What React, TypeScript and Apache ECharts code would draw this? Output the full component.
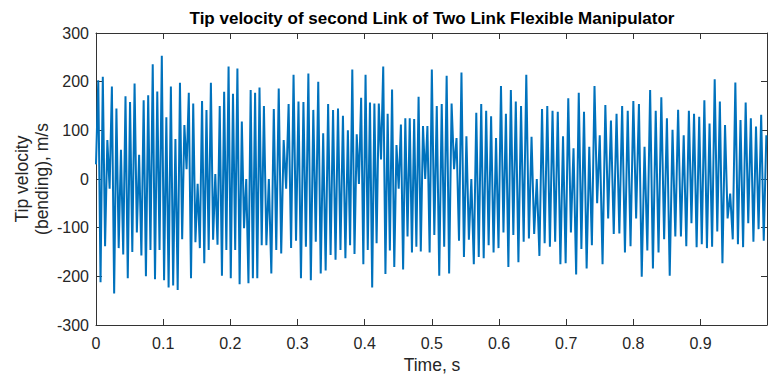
import React, { useEffect, useRef } from "react";
import * as echarts from "echarts";

const titleText = "Tip velocity of second Link of Two Link Flexible Manipulator";
const xLabel = "Time, s";
const yLabelLines = ["Tip velocity", "(bending), m/s"];

// Tip velocity samples (m/s) (each segment ~0.125 s)
const seg1 = [30, 203, -212, 210, -138, 80, -20, 190, -235, 145, -142, 60, -155, 170, -204, 158, -150, 196, -110, 50, -157, 162, -200, 172, -146, 236, -206, 180, -146, 253, -208, 127, -223, 190, -219, 82, -228];
const seg2 = [198, -124, 111, 20, 177, -204, 155, -130, -10, -142, 160, -173, 142, -146, 198, -125, 10, -135, 150, -199, 179, -146, 231, -204, 175, -146, 227, -216, 118, -101, 0, -214, 183, -204, 177, -204, 188, -136];
const seg3 = [150, -136, 0, -194, 144, -146, 186, -153, 80, -20, 154, -142, 214, -127, 159, -204, 158, -139, 217, -208, 142, -129, 200, -194, 94, -188, 154, -156, 142, -166, 145, -146, 130, -163];
const seg4 = [100, -136, 225, -154, 92, -10, 167, -175, 214, -146, 157, -223, 155, -132, 155, 40, 231, -195, 134, -147, 184, -181, 70, -20, 112, -186, 125, -118, 125, -151, 123, -139, 169, -149, 109, 0, 109, -151];
const seg5 = [225, -115, 150, -199, 154, -139, 212, -194, 155, 20, 84, -127, 219, -160, 88, -125, 0, -175, 136, -160, 154, -163, 140, -136, 129, -151, 84, -142, 191, -110, 134, -181, 183, -115];
const seg6 = [159, -171, 150, -129, 214, -122, 87, -113, 0, -158, 144, -132, 150, -139, 140, -129, 138, -175, 88, -173, 166, -110, 63, -196, 177, -144, 138, -184, 66, -136, 191, -50];
const seg7 = [90, -175, 152, -81, 120, -113, 134, -112, 150, -151, 140, -138, 160, -81, 154, -201, 66, -147, 183, -184, 140, -151, 168, -124, 125, -199, 101, -118, 142, -118];
const seg8 = [90, -138, 140, -91, 134, -140, 128, -134, 162, -142, 114, -139, 205, -108, 159, -173, 111, -81, -30, -124, 198, -134, 121, -140, 157, -91, 125, -129, 108, -103, 132, -127, 90];

const segments = [seg1, seg2, seg3, seg4, seg5, seg6, seg7, seg8];
const segmentStarts = [0, 0.125, 0.25, 0.375, 0.5, 0.625, 0.75, 0.875];
const timeEnd = 0.998;
const xMax = 0.999;

const yTicks = [-300, -200, -100, 0, 100, 200, 300];

function buildData(): [number, number][] {
  const out: [number, number][] = [];
  segments.forEach((seg, k) => {
    const start = segmentStarts[k];
    const last = k === segments.length - 1;
    const span = last ? timeEnd - start : segmentStarts[k + 1] - start;
    const step = last ? span / (seg.length - 1) : span / seg.length;
    seg.forEach((v, i) => out.push([start + i * step, v]));
  });
  return out;
}

export default function App() {
  const ref = useRef<HTMLDivElement>(null);
  useEffect(() => {
    if (!ref.current) return;
    const chart = echarts.init(ref.current, undefined, { renderer: "svg" });
    const font = "'Liberation Sans', Arial, Helvetica, sans-serif";
    const axisColor = "#262626";
    const lineColor = "#333333";
    const axisCommon = {
      type: "value" as const,
      axisLine: { show: true, onZero: false, lineStyle: { color: lineColor, width: 1 } },
      axisTick: { show: true, inside: true, length: 6, lineStyle: { color: lineColor, width: 1 } },
      splitLine: { show: false },
    };
    chart.setOption({
      animation: false,
      backgroundColor: "#ffffff",
      grid: { left: 96, right: 1, top: 33, bottom: 50, containLabel: false },
      xAxis: [
        {
          ...axisCommon,
          position: "bottom",
          min: 0,
          max: xMax,
          interval: 0.1,
          axisLabel: {
            show: true,
            color: axisColor,
            fontFamily: font,
            fontSize: 16,
            margin: 10,
            showMaxLabel: false,
            formatter: (v: number) => String(Math.round(v * 10) / 10),
          },
        },
        {
          ...axisCommon,
          position: "top",
          min: 0,
          max: xMax,
          interval: 0.1,
          axisLabel: { show: false },
        },
      ],
      yAxis: [
        {
          ...axisCommon,
          position: "left",
          min: yTicks[0],
          max: yTicks[yTicks.length - 1],
          interval: 100,
          axisLabel: { show: true, color: axisColor, fontFamily: font, fontSize: 16, margin: 7 },
        },
        {
          ...axisCommon,
          position: "right",
          min: yTicks[0],
          max: yTicks[yTicks.length - 1],
          interval: 100,
          axisLabel: { show: false },
        },
      ],
      graphic: [
        {
          type: "text",
          x: 432,
          y: 18,
          style: {
            text: titleText,
            fill: "#000000",
            font: `bold 17px ${font}`,
            textAlign: "center",
            textVerticalAlign: "middle",
          },
        },
        {
          type: "text",
          x: 432,
          y: 365,
          style: {
            text: xLabel,
            fill: axisColor,
            font: `17.5px ${font}`,
            textAlign: "center",
            textVerticalAlign: "middle",
          },
        },
        {
          type: "text",
          x: 22,
          y: 179,
          rotation: Math.PI / 2,
          style: {
            text: yLabelLines[0],
            fill: axisColor,
            font: `17.5px ${font}`,
            textAlign: "center",
            textVerticalAlign: "middle",
          },
        },
        {
          type: "text",
          x: 42,
          y: 179,
          rotation: Math.PI / 2,
          style: {
            text: yLabelLines[1],
            fill: axisColor,
            font: `17.5px ${font}`,
            textAlign: "center",
            textVerticalAlign: "middle",
          },
        },
      ],
      series: [
        {
          type: "line",
          data: buildData(),
          xAxisIndex: 0,
          yAxisIndex: 0,
          showSymbol: false,
          symbol: "none",
          lineStyle: { color: "#0072BD", width: 2 },
          clip: true,
        },
      ],
    });
    return () => chart.dispose();
  }, []);
  return (
    <div
      ref={ref}
      style={{ position: "fixed", left: 0, top: 0, width: 768, height: 375, background: "#fff" }}
    />
  );
}
